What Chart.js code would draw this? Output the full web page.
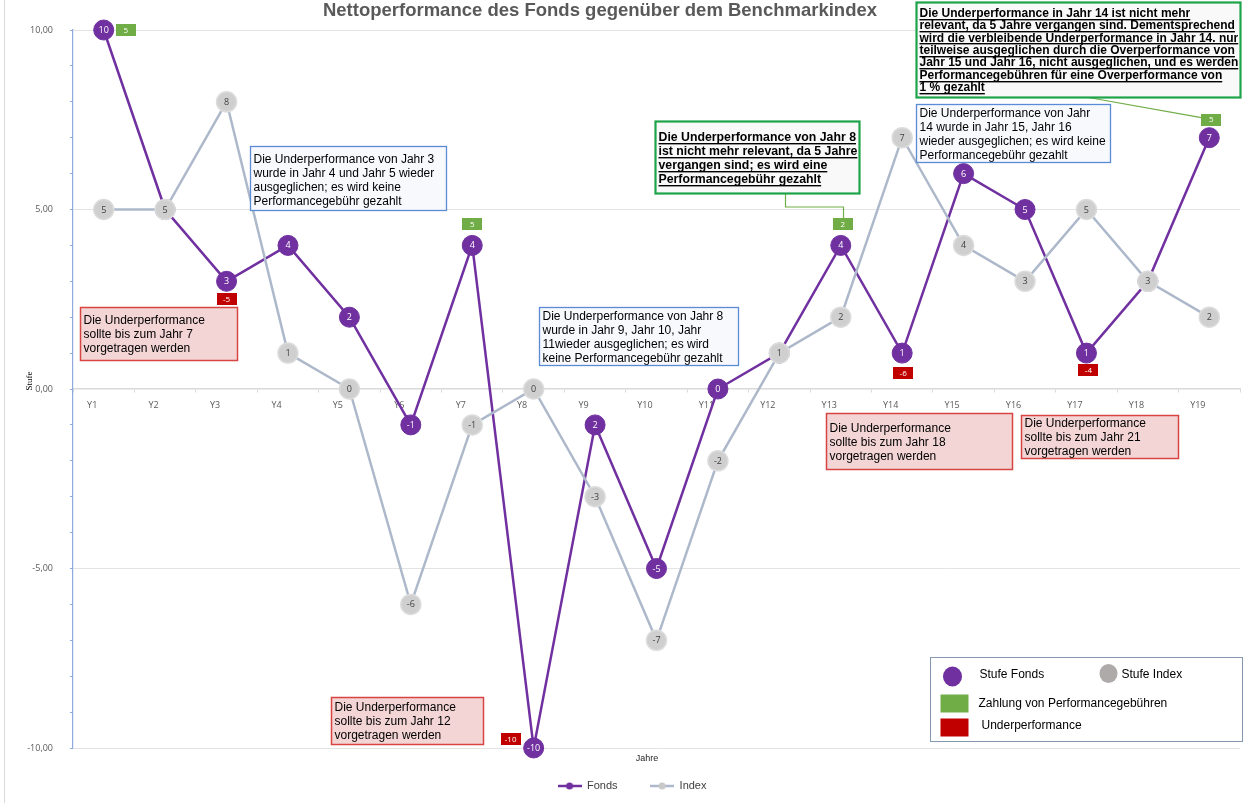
<!doctype html>
<html lang="de">
<head>
<meta charset="utf-8">
<title>Nettoperformance des Fonds</title>
<script src="https://cdn.jsdelivr.net/npm/chart.js@4.4.1/dist/chart.umd.min.js"></script>
<style>
  html, body { margin: 0; padding: 0; background: #fff; }
  #wrap { width: 1243px; height: 803px; position: relative; }
</style>
</head>
<body>
<div id="wrap"><canvas id="chart"></canvas></div>
<script>
// data
const years = ['Y1','Y2','Y3','Y4','Y5','Y6','Y7','Y8','Y9','Y10','Y11','Y12','Y13','Y14','Y15','Y16','Y17','Y18','Y19'];
const fondsStufe = [10, 5, 3, 4, 2, -1, 4, -10, -1, -5, 0, 1, 4, 1, 6, 5, 1, 3, 7];
// labels as printed on the fund markers (Y9 is printed "2")
const fondsText = ['10','5','3','4','2','-1','4','-10','2','-5','0','1','4','1','6','5','1','3','7'];
const indexStufe = [5, 5, 8, 1, 0, -6, -1, 0, -3, -7, -2, 1, 2, 7, 4, 3, 5, 3, 2];
const feeYears = ['Y1', 'Y7', 'Y13', 'Y19'];
const feeValues = [5, 5, 2, 5];
const underYears = ['Y3', 'Y8', 'Y14', 'Y17'];
const underValues = [-5, -10, -6, -4];

// where the small tags sit next to the fund marker (px)
const tagOffset = { Y1: [22, 0], Y3: [0, 18], Y7: [0, -21], Y8: [-23, -9], Y13: [2, -21], Y14: [1, 20], Y17: [2, 17], Y19: [2, -18] };

// callouts, anchored in axis units (category index, Stufe)
const notes = [
  { kind: 'blue', at: [2.38, 6.77], w: 196, h: 64, first: 13, lh: 14,
    lines: ['Die Underperformance von Jahr 3', 'wurde in Jahr 4 und Jahr 5 wieder', 'ausgeglichen; es wird keine', 'Performancegebühr gezahlt'] },
  { kind: 'red', at: [-0.386, 2.28], w: 157, h: 53, first: 13, lh: 14,
    lines: ['Die Underperformance', 'sollte bis zum Jahr 7', 'vorgetragen werden'] },
  { kind: 'blue', at: [7.088, 2.28], w: 199, h: 58, first: 9, lh: 14,
    lines: ['Die Underperformance von Jahr 8', 'wurde in Jahr 9, Jahr 10, Jahr', '11wieder ausgeglichen; es wird', 'keine Performancegebühr gezahlt'] },
  { kind: 'green', at: [8.976, 7.465], w: 204, h: 72, first: 16, lh: 14, size: 12.3, link: 'Y13', linkType: 'elbow', linkFrom: 0.635,
    lines: ['Die Underperformance von Jahr 8', 'ist nicht mehr relevant, da 5 Jahre', 'vergangen sind; es wird eine', 'Performancegebühr gezahlt'] },
  { kind: 'green', at: [13.226, 10.78], w: 324, h: 95, first: 11, lh: 12.4, size: 12, link: 'Y19', linkType: 'line', linkFrom: 0.528,
    lines: ['Die Underperformance in Jahr 14 ist nicht mehr', 'relevant, da 5 Jahre vergangen sind. Dementsprechend',
            'wird die verbleibende Underperformance in Jahr 14. nur', 'teilweise ausgeglichen durch die Overperformance von',
            'Jahr 15 und Jahr 16, nicht ausgeglichen, und es werden', 'Performancegebühren für eine Overperformance von', '1 % gezahlt'] },
  { kind: 'blue', at: [13.226, 7.94], w: 194, h: 58, first: 9, lh: 14,
    lines: ['Die Underperformance von Jahr', '14 wurde in Jahr 15, Jahr 16', 'wieder ausgeglichen; es wird keine', 'Performancegebühr gezahlt'] },
  { kind: 'red', at: [11.76, -0.669], w: 186, h: 56, first: 15, lh: 14,
    lines: ['Die Underperformance', 'sollte bis zum Jahr 18', 'vorgetragen werden'] },
  { kind: 'red', at: [14.935, -0.724], w: 157, h: 43, first: 8, lh: 14,
    lines: ['Die Underperformance', 'sollte bis zum Jahr 21', 'vorgetragen werden'] },
  { kind: 'red', at: [3.70, -8.58], w: 152, h: 47, first: 10, lh: 14,
    lines: ['Die Underperformance', 'sollte bis zum Jahr 12', 'vorgetragen werden'] }
];
const keyBox = { at: [13.46, -7.465], w: 312, h: 84 };

const noteStyles = {
  blue:  { fill: '#f7f9fd', stroke: '#5b8bd5', lw: 1.3, weight: '', underline: false },
  red:   { fill: '#f4d5d6', stroke: '#d64541', lw: 1.5, weight: '', underline: false },
  green: { fill: '#f9f9f9', stroke: '#1ea34a', lw: 2.2, weight: 'bold ', underline: true }
};

const PURPLE = '#7030a0';
const GREEN = '#70ad47';
const RED = '#c00000';

function legendMark(line, fill) {
  const c = document.createElement('canvas');
  c.width = 24; c.height = 10;
  const g = c.getContext('2d');
  g.strokeStyle = line; g.lineWidth = 2.5;
  g.beginPath(); g.moveTo(0, 5); g.lineTo(24, 5); g.stroke();
  g.fillStyle = fill;
  g.beginPath(); g.arc(12, 5, 3.5, 0, Math.PI * 2); g.fill();
  return c;
}
const legendMarks = [legendMark(PURPLE, PURPLE), legendMark('#adb9ca', '#c9c9c9')];

function tagBox(ctx, cx, cy, color, text) {
  ctx.fillStyle = color;
  ctx.fillRect(Math.round(cx - 10), Math.round(cy - 6), 20, 12);
  ctx.fillStyle = '#fff';
  ctx.font = '8px "Open Sans", sans-serif';
  ctx.textAlign = 'center';
  ctx.textBaseline = 'middle';
  ctx.fillText(text, cx, cy + 0.5);
}

const overlay = {
  id: 'overlay',
  afterDatasetDraw(chart, args) {
    const ctx = chart.ctx;
    const isFonds = args.index === 0;
    ctx.save();
    ctx.font = '9px "Open Sans", sans-serif';
    ctx.textAlign = 'center';
    ctx.textBaseline = 'middle';
    ctx.fillStyle = isFonds ? '#ffffff' : '#404040';
    args.meta.data.forEach((pt, i) => {
      const t = isFonds ? fondsText[i] : String(indexStufe[i]);
      ctx.fillText(t, pt.x, pt.y + 0.5);
    });
    ctx.restore();
  },
  afterDraw(chart) {
    const ctx = chart.ctx;
    const xs = chart.scales.x, ys = chart.scales.y;
    const X = v => Math.round(xs.getPixelForValue(v)) + 0.5;
    const Y = v => Math.round(ys.getPixelForValue(v)) + 0.5;
    const fondsMeta = chart.getDatasetMeta(0);
    const tagPos = {};
    ctx.save();

    // chart frame line on the left
    ctx.strokeStyle = '#d9d9d9'; ctx.lineWidth = 1;
    ctx.beginPath(); ctx.moveTo(4.5, 0); ctx.lineTo(4.5, chart.height); ctx.stroke();

    // fee / underperformance tags
    const addTag = (yr, val, color) => {
      const pt = fondsMeta.data[years.indexOf(yr)];
      const off = tagOffset[yr];
      const cx = pt.x + off[0], cy = pt.y + off[1];
      tagPos[yr] = { cx, cy };
      tagBox(ctx, cx, cy, color, String(val));
    };
    feeYears.forEach((yr, i) => addTag(yr, feeValues[i], GREEN));
    underYears.forEach((yr, i) => addTag(yr, underValues[i], RED));

    // callouts
    notes.forEach(n => {
      const st = noteStyles[n.kind];
      const x = X(n.at[0]), y = Y(n.at[1]);
      if (n.link) {
        const t = tagPos[n.link];
        const sx = Math.round(x + n.w * n.linkFrom) + 0.5, sy = y + n.h;
        ctx.strokeStyle = GREEN; ctx.lineWidth = 1.2;
        ctx.beginPath();
        if (n.linkType === 'elbow') {
          const ty = Math.round(t.cy - 6);
          const mid = ty - 11;
          const tx = Math.round(t.cx) + 0.5;
          ctx.moveTo(sx, sy); ctx.lineTo(sx, mid); ctx.lineTo(tx, mid); ctx.lineTo(tx, ty);
        } else {
          ctx.moveTo(sx, sy); ctx.lineTo(t.cx - 10, t.cy - 2);
        }
        ctx.stroke();
      }
      ctx.fillStyle = st.fill;
      ctx.fillRect(x, y, n.w, n.h);
      ctx.strokeStyle = st.stroke; ctx.lineWidth = st.lw;
      ctx.strokeRect(x, y, n.w, n.h);
      ctx.font = st.weight + (n.size || 12) + 'px "Liberation Sans", Arial, sans-serif';
      ctx.fillStyle = '#000';
      ctx.textAlign = 'left';
      ctx.textBaseline = 'middle';
      n.lines.forEach((line, k) => {
        const ty = y + n.first + k * n.lh;
        ctx.fillText(line, x + 3, ty);
        if (st.underline) {
          const w = ctx.measureText(line).width;
          ctx.fillRect(x + 3, Math.round(ty + 5), w, 1.4);
        }
      });
    });

    // key box
    const kx = X(keyBox.at[0]), ky = Y(keyBox.at[1]);
    ctx.fillStyle = '#fff';
    ctx.fillRect(kx, ky, keyBox.w, keyBox.h);
    ctx.strokeStyle = '#8496b0'; ctx.lineWidth = 1;
    ctx.strokeRect(kx, ky, keyBox.w, keyBox.h);
    ctx.fillStyle = PURPLE;
    ctx.beginPath(); ctx.ellipse(kx + 22, ky + 19, 9.5, 10, 0, 0, Math.PI * 2); ctx.fill();
    ctx.fillStyle = '#aeaaaa';
    ctx.beginPath(); ctx.ellipse(kx + 178, ky + 16, 9, 9.5, 0, 0, Math.PI * 2); ctx.fill();
    ctx.fillStyle = GREEN; ctx.fillRect(kx + 10, ky + 37, 28, 18);
    ctx.fillStyle = RED; ctx.fillRect(kx + 10, ky + 61, 28, 18);
    ctx.fillStyle = '#000';
    ctx.font = '12px "Liberation Sans", Arial, sans-serif';
    ctx.textAlign = 'left'; ctx.textBaseline = 'middle';
    ctx.fillText('Stufe Fonds', kx + 49, ky + 17);
    ctx.fillText('Stufe Index', kx + 191, ky + 17);
    ctx.fillText('Zahlung von Performancegebühren', kx + 48, ky + 46);
    ctx.fillText('Underperformance', kx + 51, ky + 68);

    // title
    ctx.fillStyle = '#595959';
    ctx.font = 'bold 18.5px "Liberation Sans", Arial, sans-serif';
    ctx.textAlign = 'center';
    ctx.fillText('Nettoperformance des Fonds gegenüber dem Benchmarkindex', 600, 11);

    // axis titles
    ctx.fillStyle = '#262626';
    ctx.font = '9px "Liberation Sans", Arial, sans-serif';
    ctx.fillText('Jahre', 647, chart.chartArea.bottom + 11);
    ctx.translate(30, 381);
    ctx.rotate(-Math.PI / 2);
    ctx.fillStyle = '#000';
    ctx.font = '9px "Liberation Serif", serif';
    ctx.fillText('Stufe', 0, 0);
    ctx.restore();
  }
};

const ctx = document.getElementById('chart').getContext('2d');
new Chart(ctx, {
  type: 'line',
  data: {
    labels: years,
    datasets: [
      {
        label: 'Fonds',
        data: fondsStufe,
        order: 1,
        borderColor: PURPLE,
        borderWidth: 2.5,
        pointRadius: 10,
        pointBackgroundColor: PURPLE,
        pointBorderColor: PURPLE,
        pointBorderWidth: 1,
        pointHoverRadius: 10,
        clip: false
      },
      {
        label: 'Index',
        data: indexStufe,
        order: 0,
        borderColor: '#adb9ca',
        borderWidth: 2.5,
        pointRadius: 10,
        pointBackgroundColor: '#d0cfcf',
        pointBorderColor: '#dcdcdc',
        pointBorderWidth: 1.5,
        pointHoverRadius: 10,
        clip: false
      }
    ]
  },
  options: {
    responsive: true,
    maintainAspectRatio: false,
    animation: false,
    events: [],
    layout: { autoPadding: false, padding: { top: 30, right: 3, bottom: 1.5, left: 24 } },
    scales: {
      x: {
        type: 'category',
        position: { y: 0 },
        offset: true,
        grid: { drawOnChartArea: false, drawTicks: true, tickLength: 3, tickColor: '#d9d9d9', offset: true },
        border: { color: '#d9d9d9', width: 1.5 },
        ticks: {
          color: '#595959',
          font: { family: '"Open Sans", sans-serif', size: 9 },
          padding: 8,
          labelOffset: -11.5,
          maxRotation: 0,
          autoSkip: false
        }
      },
      y: {
        min: -10,
        max: 10,
        afterFit: s => { s.width = 49; },
        ticks: {
          stepSize: 1,
          color: '#595959',
          font: { family: '"Open Sans", sans-serif', size: 9 },
          padding: 17,
          callback: v => (v % 5 === 0 ? v.toFixed(2).replace('.', ',') : '')
        },
        grid: {
          color: c => (c.tick && c.tick.value % 5 === 0 && c.tick.value !== 0 ? '#e3e3e3' : 'rgba(0,0,0,0)'),
          tickColor: '#8faadc',
          tickLength: 3
        },
        border: { color: '#8faadc', width: 1.2 }
      }
    },
    plugins: {
      title: { display: false },
      tooltip: { enabled: false },
      legend: {
        display: true,
        position: 'bottom',
        labels: {
          usePointStyle: true,
          pointStyleWidth: 24,
          padding: 32.5,
          color: '#404040',
          font: { family: '"Liberation Sans", Arial, sans-serif', size: 11 },
          sort: (a, b) => a.datasetIndex - b.datasetIndex,
          generateLabels(chart) {
            const items = Chart.defaults.plugins.legend.labels.generateLabels(chart);
            items.forEach(it => { it.pointStyle = legendMarks[it.datasetIndex]; });
            return items;
          }
        }
      }
    }
  },
  plugins: [overlay]
});
</script>
</body>
</html>
